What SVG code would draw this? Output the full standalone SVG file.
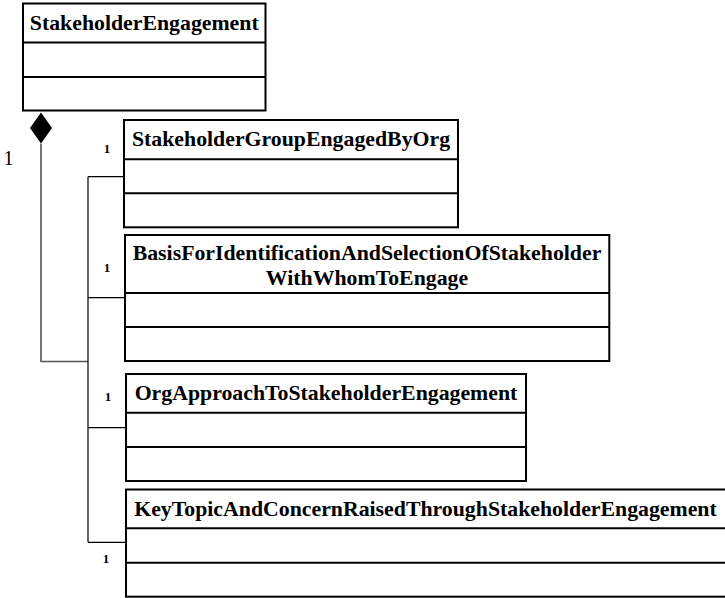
<svg xmlns="http://www.w3.org/2000/svg" width="725" height="598" viewBox="0 0 725 598">
  <style>
    .box { fill: #ffffff; stroke: #000000; stroke-width: 2; }
    .div { stroke: #000000; stroke-width: 2; fill: none; }
    .name { font-family: "Liberation Serif", "Times New Roman", serif; font-weight: bold; font-size: 21.8px; fill: #000000; text-anchor: middle; }
    .mult { font-family: "Liberation Serif", "Times New Roman", serif; font-weight: bold; font-size: 13px; fill: #000000; text-anchor: middle; }
    .mult-big { font-family: "Liberation Serif", "Times New Roman", serif; font-size: 20px; fill: #000000; text-anchor: middle; }
    .link { stroke: #000000; stroke-width: 1.2; fill: none; }
    .comp { stroke: #555555; stroke-width: 1.6; fill: none; }
  </style>

  <!-- connectors: composition from StakeholderEngagement to its parts -->
  <g id="connectors">
    <polygon points="41,112.5 52,128 41,143.5 30,128" fill="#000000"/>
    <polyline class="comp" points="41,143.5 41,361.5 88,361.5"/>
    <line class="link" x1="88" y1="176.7" x2="88" y2="542.3"/>
    <line class="link" x1="88" y1="176.7" x2="124" y2="176.7"/>
    <line class="link" x1="88" y1="297.7" x2="125" y2="297.7"/>
    <line class="link" x1="88" y1="427.7" x2="126" y2="427.7"/>
    <line class="link" x1="88" y1="542.3" x2="126" y2="542.3"/>
    <text class="mult-big" x="8.5" y="165">1</text>
    <text class="mult" x="107" y="153">1</text>
    <text class="mult" x="107" y="272">1</text>
    <text class="mult" x="108" y="401">1</text>
    <text class="mult" x="106" y="562.5">1</text>
  </g>

  <g id="StakeholderEngagement">
    <rect class="box" x="23" y="3.5" width="242.5" height="107"/>
    <line class="div" x1="23" y1="42.5" x2="265.5" y2="42.5"/>
    <line class="div" x1="23" y1="77" x2="265.5" y2="77"/>
    <text class="name" x="144.25" y="30">StakeholderEngagement</text>
  </g>

  <g id="StakeholderGroupEngagedByOrg">
    <rect class="box" x="124" y="120" width="334" height="107.3"/>
    <line class="div" x1="124" y1="159.3" x2="458" y2="159.3"/>
    <line class="div" x1="124" y1="193.3" x2="458" y2="193.3"/>
    <text class="name" x="291" y="146">StakeholderGroupEngagedByOrg</text>
  </g>

  <g id="BasisForIdentificationAndSelectionOfStakeholderWithWhomToEngage">
    <rect class="box" x="125" y="235" width="484.3" height="126"/>
    <line class="div" x1="125" y1="293" x2="609.3" y2="293"/>
    <line class="div" x1="125" y1="327" x2="609.3" y2="327"/>
    <text class="name" x="367" y="260">BasisForIdentificationAndSelectionOfStakeholder</text>
    <text class="name" x="367" y="284.5">WithWhomToEngage</text>
  </g>

  <g id="OrgApproachToStakeholderEngagement">
    <rect class="box" x="126" y="374" width="400" height="107"/>
    <line class="div" x1="126" y1="412.7" x2="526" y2="412.7"/>
    <line class="div" x1="126" y1="447" x2="526" y2="447"/>
    <text class="name" x="326" y="400">OrgApproachToStakeholderEngagement</text>
  </g>

  <g id="KeyTopicAndConcernRaisedThroughStakeholderEngagement">
    <rect class="box" x="126" y="489.5" width="602" height="107.2"/>
    <line class="div" x1="126" y1="528.3" x2="728" y2="528.3"/>
    <line class="div" x1="126" y1="562.7" x2="728" y2="562.7"/>
    <text class="name" x="425.5" y="516">KeyTopicAndConcernRaisedThroughStakeholderEngagement</text>
  </g>
</svg>
